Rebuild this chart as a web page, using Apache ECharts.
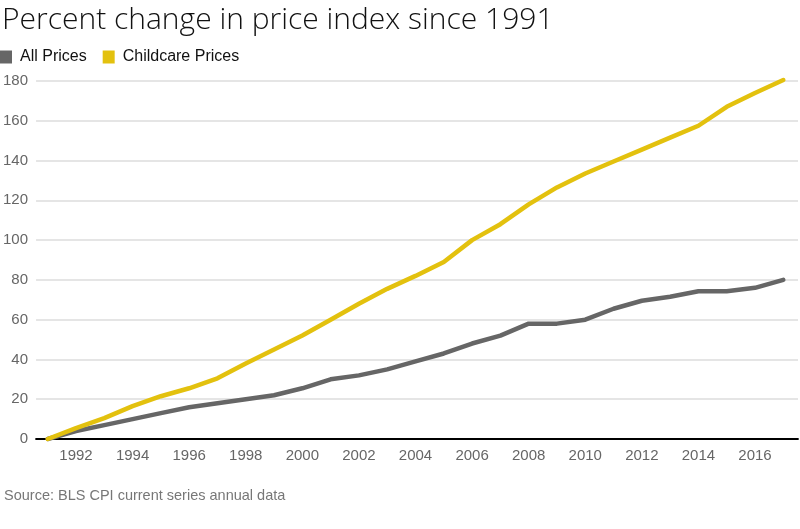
<!DOCTYPE html>
<html><head><meta charset="utf-8">
<script src="https://cdn.jsdelivr.net/npm/echarts@6/dist/echarts.min.js"></script>
<style>html,body{margin:0;padding:0;background:#fff}#c{width:800px;height:529px}</style>
</head><body><div id="c"></div>
<script>
const years = [1991,1992,1993,1994,1995,1996,1997,1998,1999,2000,2001,2002,2003,2004,2005,2006,2007,2008,2009,2010,2011,2012,2013,2014,2015,2016,2017];
const allPrices = [0,4,7,10,13,16,18,20,22,25.5,30,32,35,39,43,48,52,58,58,60,65.5,69.5,71.5,74.3,74.3,76,80];
const childcarePrices = [0,5.5,10.5,16.5,21.5,25.5,30.5,38,45,52,60,68,75.5,82,89,100,108,118,126.5,133.5,139.5,145.5,151.5,157.5,167,174,180.5];
const xTicks = [1992,1994,1996,1998,2000,2002,2004,2006,2008,2010,2012,2014,2016];
const yTicks = [0,20,40,60,80,100,120,140,160,180];
const seriesNames = ['All Prices','Childcare Prices'];
const titleText = 'Percent change in price index since 1991';
const sourceText = 'Source: BLS CPI current series annual data';

const chart = echarts.init(document.getElementById('c'), null, {renderer:'canvas'});
const pair = (arr) => years.map((y,i)=>[y,arr[i]]);
chart.setOption({
  animation:false,
  backgroundColor:'#fff',
  title:[{text:titleText,left:-3,top:0,textStyle:{fontFamily:'Open Sans',fontSize:30,fontWeight:300,color:'#111'}},
         {text:sourceText,left:-1,top:483,textStyle:{fontFamily:'Liberation Sans',fontSize:14.5,fontWeight:'normal',color:'#777'}}],
  legend:{left:0,top:49,padding:0,icon:'rect',itemWidth:12,itemHeight:13,itemGap:16,
    textStyle:{fontFamily:'Liberation Sans',fontSize:16,color:'#111',padding:[0,0,0,3]},
    data:seriesNames},
  grid:{left:35,right:2,top:81,bottom:90,containLabel:false},
  xAxis:{type:'value',min:1990.587,max:2017.52,
    axisLine:{show:true,lineStyle:{color:'#000',width:1.8}},
    axisTick:{show:false},
    splitLine:{show:false},
    axisLabel:{customValues:xTicks,color:'#666',fontFamily:'Liberation Sans',fontSize:15,margin:9,formatter:v=>String(v)}},
  yAxis:{type:'value',min:0,max:180,interval:20,
    axisLine:{show:false},axisTick:{show:false},
    splitLine:{lineStyle:{color:'#ddd',width:1.5}},
    axisLabel:{color:'#666',fontFamily:'Liberation Sans',fontSize:15,margin:8}},
  series:[
    {name:seriesNames[0],type:'line',data:pair(allPrices),showSymbol:false,clip:false,
      itemStyle:{color:'#666'},lineStyle:{color:'#666',width:4.5,cap:'round',join:'round'}},
    {name:seriesNames[1],type:'line',data:pair(childcarePrices),showSymbol:false,clip:false,
      itemStyle:{color:'#e3c10e'},lineStyle:{color:'#e3c10e',width:4.5,cap:'round',join:'round'}}
  ]
});
</script></body></html>
